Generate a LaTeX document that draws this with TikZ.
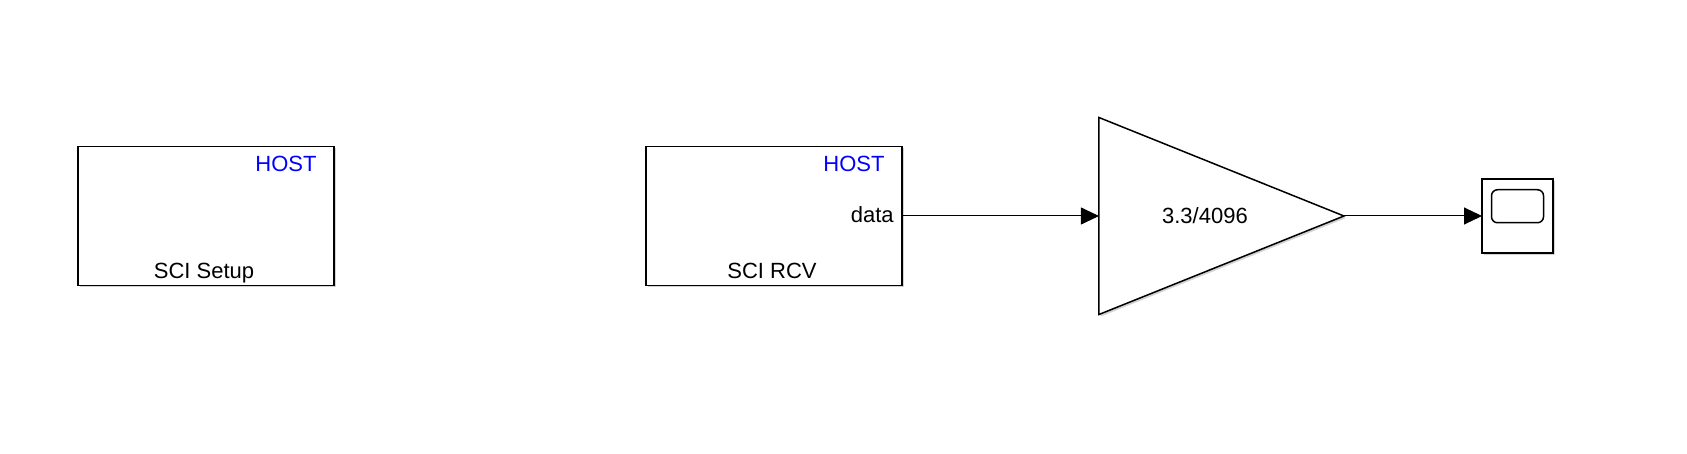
\documentclass[tikz,border=0pt]{standalone}
\usepackage{fontspec}
\setmainfont{Liberation Sans}
\usetikzlibrary{arrows.meta, positioning, shapes.geometric, shadows}

\tikzset{
  sysblock/.style={draw, line width=0.75pt, fill=white, minimum width=128pt, minimum height=69.5pt,
    inner sep=0pt, outer sep=0pt, drop shadow={shadow xshift=1pt, shadow yshift=-1pt, opacity=0.35}},
  gainblock/.style={draw, line width=0.75pt, fill=white, isosceles triangle, isosceles triangle stretches,
    minimum width=98.5pt, minimum height=122.5pt, inner sep=0pt, outer sep=0pt,
    drop shadow={shadow xshift=1pt, shadow yshift=-1pt, opacity=0.35}},
  scopeblock/.style={draw, line width=0.75pt, fill=white, minimum width=35.5pt, minimum height=37pt,
    inner sep=0pt, outer sep=0pt, drop shadow={shadow xshift=1pt, shadow yshift=-1pt, opacity=0.35}},
  screen/.style={draw, line width=0.75pt, rounded corners=3pt, minimum width=26pt, minimum height=16.5pt,
    inner sep=0pt},
  hostlabel/.style={text=blue, inner sep=0pt, font=\fontsize{11}{13}\selectfont},
  blocklabel/.style={inner sep=0pt, font=\fontsize{11}{13}\selectfont},
  signal/.style={line width=0.5pt, -{Triangle[length=9pt, width=8.5pt]}}
}

\begin{document}
\begin{tikzpicture}[x=0.5pt, y=-0.5pt]
    \useasboundingbox (0,0) rectangle (1687,454);

    % blocks
    \node[sysblock] (setup) at (206,216) {};
    \node[sysblock] (rcv) at (774,216) {};
    \node[gainblock] (gain) at (1165.5,216) {};
    \node[scopeblock] (scope) at (1517.5,216) {};
    \node[screen, anchor=north] (scr) at ([yshift=-5pt]scope.north) {};

    % texts
    \node[hostlabel, anchor=north east] (setuphost) at ([xshift=-8.5pt, yshift=-4.5pt]setup.north east) {HOST};
    \node[blocklabel, anchor=base] (setupname) at ([xshift=-1pt, yshift=3.5pt]setup.south) {SCI Setup};
    \node[hostlabel, anchor=north east] (rcvhost) at ([xshift=-8.5pt, yshift=-4.5pt]rcv.north east) {HOST};
    \node[blocklabel, anchor=base] (rcvname) at ([xshift=-1pt, yshift=3.5pt]rcv.south) {SCI RCV};
    \node[blocklabel, anchor=base east] (rcvport) at ([xshift=-4pt, yshift=-3.5pt]rcv.east) {data};
    \node[blocklabel] (gainval) at ([xshift=53pt]gain.west) {3.3/4096};

    % signals
    \draw[signal] (rcv.east) -- (gain.west);
    \draw[signal] (gain.east) -- (scope.west);

\end{tikzpicture}
\end{document}
